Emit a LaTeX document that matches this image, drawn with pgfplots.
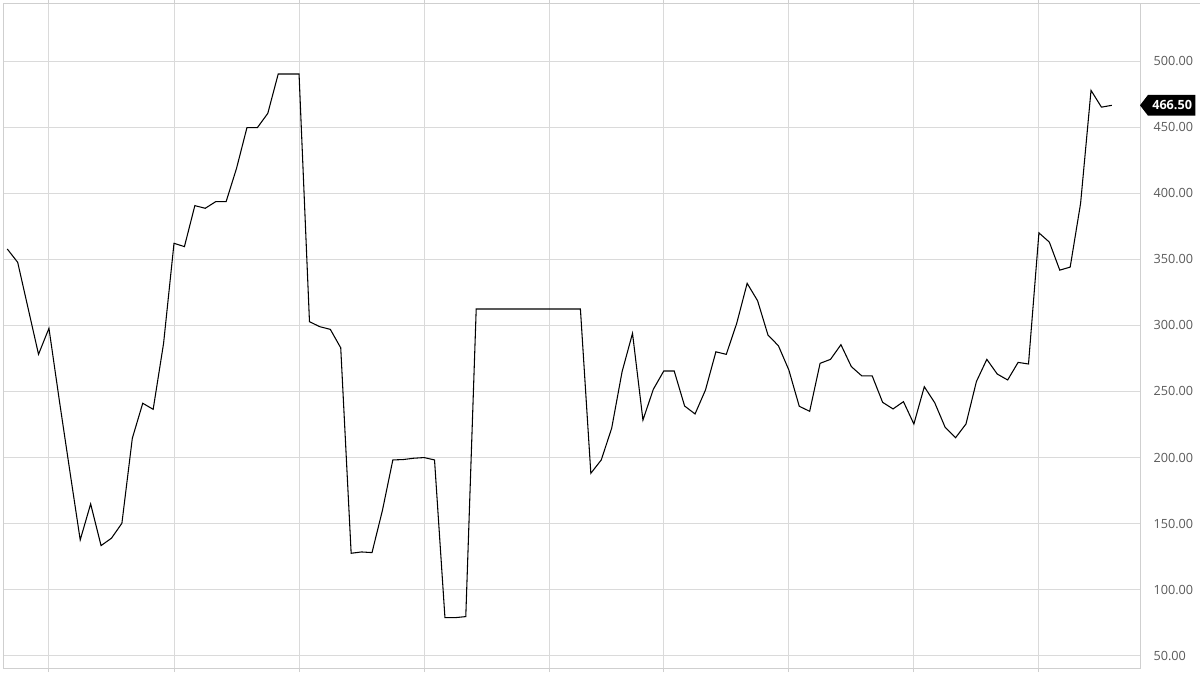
\documentclass[border=0pt]{standalone}
\usepackage{fontspec}
\setmainfont{Open Sans}
\usepackage{pgfplots}
\pgfplotsset{compat=1.18}

\definecolor{gridgray}{HTML}{DADADA}
\definecolor{framegray}{HTML}{CFCFCF}
\definecolor{labelgray}{HTML}{5A5A5A}

\pgfplotstableread{
x y
0 357.8
1 347.7
2 312.9
3 278.1
4 297.8
5 243.0
6 190.0
7 137.7
8 164.9
9 133.4
10 139.0
11 150.3
12 214.6
13 241.1
14 236.5
15 286.4
16 362.1
17 359.6
18 390.6
19 388.6
20 393.6
21 393.6
22 418.8
23 449.6
24 449.6
25 460.4
26 490.2
27 490.2
28 490.2
29 302.8
30 299.0
31 297.0
32 283.0
33 127.6
34 128.6
35 128.1
36 160.0
37 198.2
38 198.5
39 199.5
40 200.0
41 198.2
42 78.9
43 78.9
44 79.7
45 312.4
46 312.4
47 312.4
48 312.4
49 312.4
50 312.4
51 312.4
52 312.4
53 312.4
54 312.4
55 312.4
56 188.1
57 198.2
58 222.2
59 265.0
60 294.0
61 228.4
62 251.7
63 265.5
64 265.5
65 239.0
66 233.0
67 251.1
68 280.0
69 278.1
70 301.6
71 331.8
72 318.7
73 292.7
74 284.6
75 266.3
76 238.8
77 235.0
78 271.3
79 274.3
80 285.4
81 268.8
82 261.8
83 261.8
84 241.8
85 236.8
86 242.3
87 225.4
88 253.6
89 241.5
90 222.9
91 215.0
92 225.4
93 257.5
94 274.3
95 263.2
96 258.7
97 272.0
98 270.8
99 370.0
100 363.0
101 341.8
102 344.1
103 392.4
104 477.8
105 465.1
106 466.5
}\pricedata

\begin{document}
\begin{tikzpicture}
\begin{axis}[
    scale only axis,
    width=852.75pt, height=498.75pt,
    xmin=-0.41, xmax=108.7,
    ymin=40.8, ymax=543.9,
    axis line style={draw=framegray, line width=0.75pt},
    xmajorgrids, ymajorgrids,
    grid style={draw=gridgray, line width=0.75pt},
    xtick={4,16,28,40,52,63,75,87,99},
    xticklabels={},
    tick align=outside,
    xtick style={draw=framegray, line width=0.75pt},
    ytick style={draw=none},
    major tick length=3pt,
    ytick={50,100,...,500},
    yticklabel pos=right,
    yticklabel style={anchor=west, inner sep=0pt, xshift=7pt,
        font=\fontsize{9.5}{11}\selectfont, text=labelgray},
    /pgf/number format/.cd, fixed, fixed zerofill, precision=2,
        1000 sep={}, assume math mode=true,
]
\addplot[black, line width=0.8pt, mark=none] table[x=x, y=y] {\pricedata};
\coordinate (tag) at (axis cs:108.7,466.5);
\coordinate (topright) at (rel axis cs:1,1);
\end{axis}

% last price tag on the right axis
\fill[black] (tag) -- ++(6pt,7.8pt) -- ++(35.5pt,0)
    -- ++(0,-15.6pt) -- ++(-35.5pt,0) -- cycle;
\node[anchor=west, inner sep=0pt, text=white,
    font=\fontsize{9.5}{11}\selectfont\bfseries]
    at ([xshift=9pt]tag) {466.50};

% top frame line runs on over the label column
\draw[framegray, line width=0.75pt] (topright) -- ++(45pt,0);

\pgfresetboundingbox
\path[use as bounding box] (-2.25pt,-6pt) rectangle (897.75pt,501pt);
\end{tikzpicture}
\end{document}
